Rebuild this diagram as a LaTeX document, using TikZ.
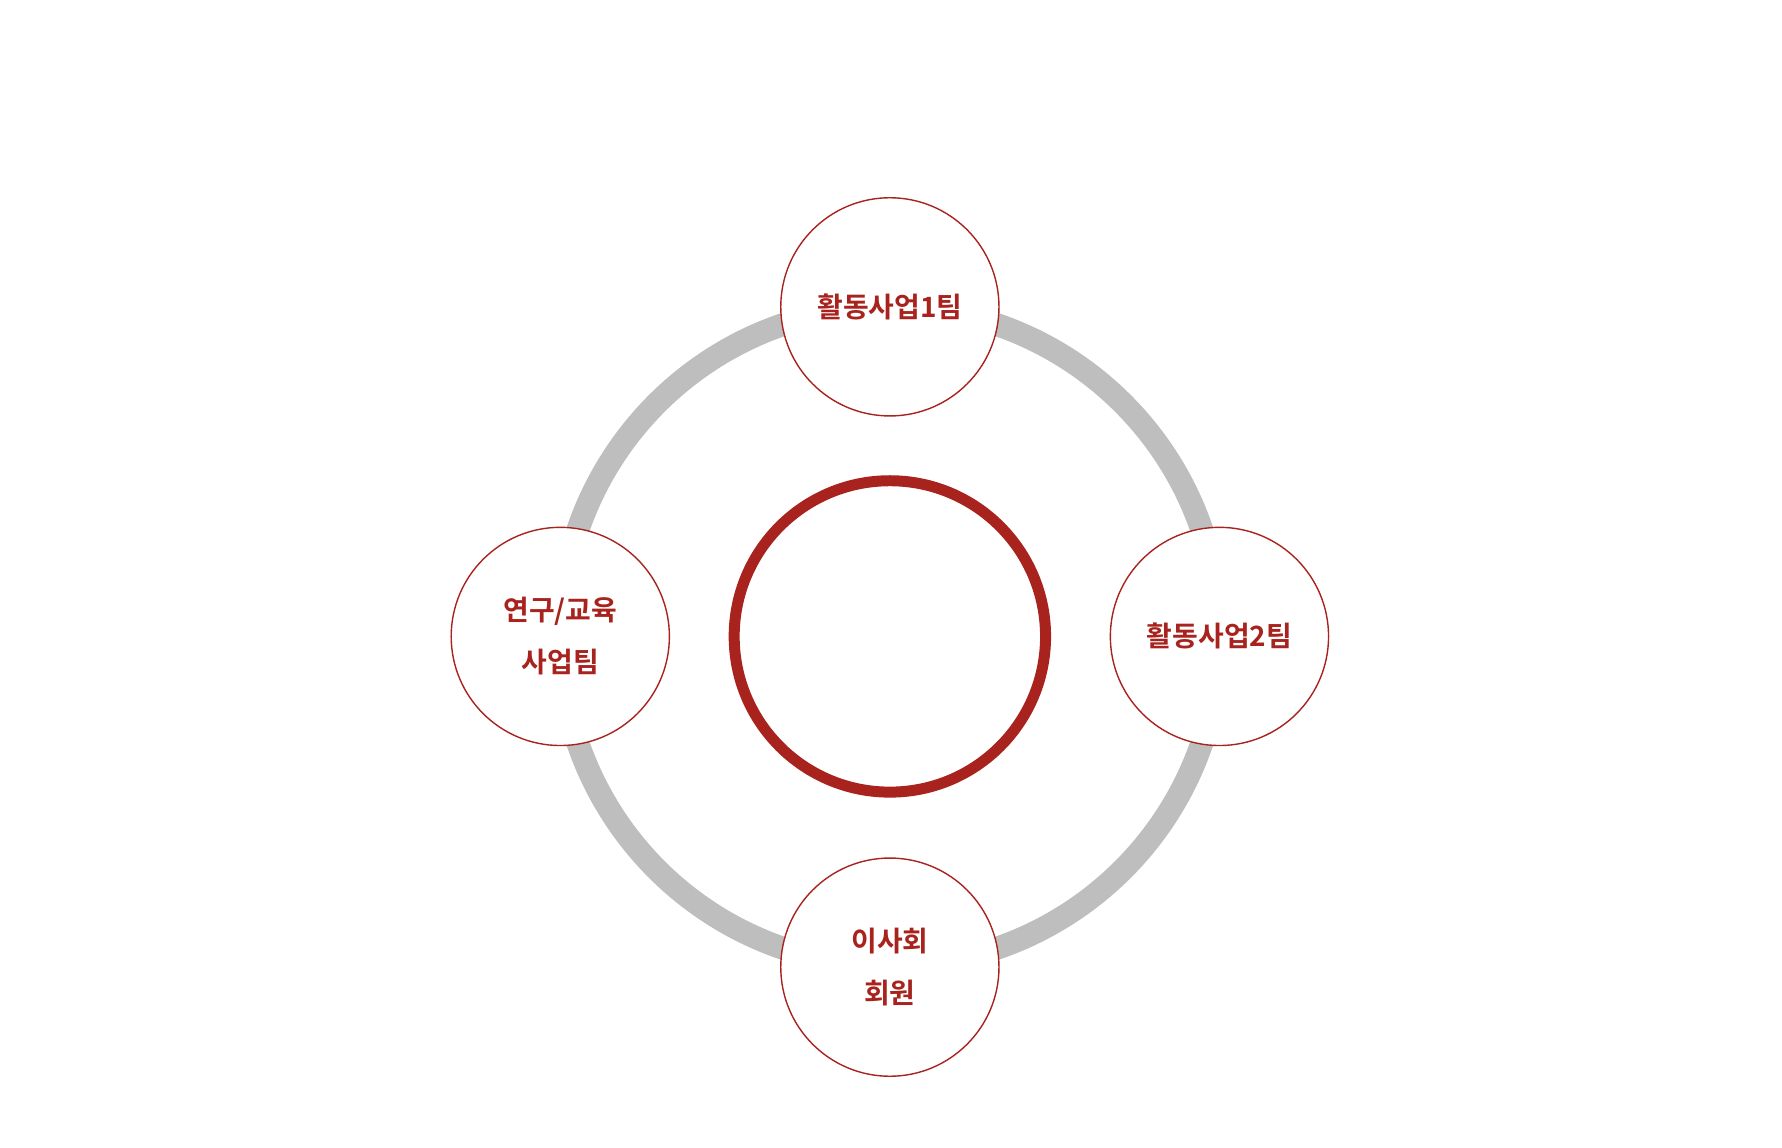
\documentclass[tikz,border=0pt]{standalone}
\usepackage{fontspec}
\newfontfamily\kr{Noto Sans CJK KR}[BoldFont={* Bold}]
\definecolor{dred}{HTML}{A8231E}
\definecolor{ring}{HTML}{BEBEBE}
\begin{document}
\begin{tikzpicture}[x=0.02cm,y=-0.02cm,
  team/.style={circle,draw=dred,line width=0.7pt,fill=white,minimum size=192*0.02cm,inner sep=0pt,
    text=dred,font=\kr\bfseries\fontsize{14}{26}\selectfont,align=center}]
\useasboundingbox (0,0) rectangle (1568,1010);
\coordinate (c) at (783,560);
\draw[ring,line width=11.5pt] (c) circle[radius=290*0.02cm];
\draw[dred,line width=5.5pt] (c) circle[radius=137*0.02cm];
\node[team] (t1) at (783,270) {활동사업1팀};
\node[team] (t2) at (1073,560) {활동사업2팀};
\node[team] (t3) at (783,851) {이사회\\회원};
\node[team] (t4) at (493,560) {연구/교육\\사업팀};
\end{tikzpicture}
\end{document}
